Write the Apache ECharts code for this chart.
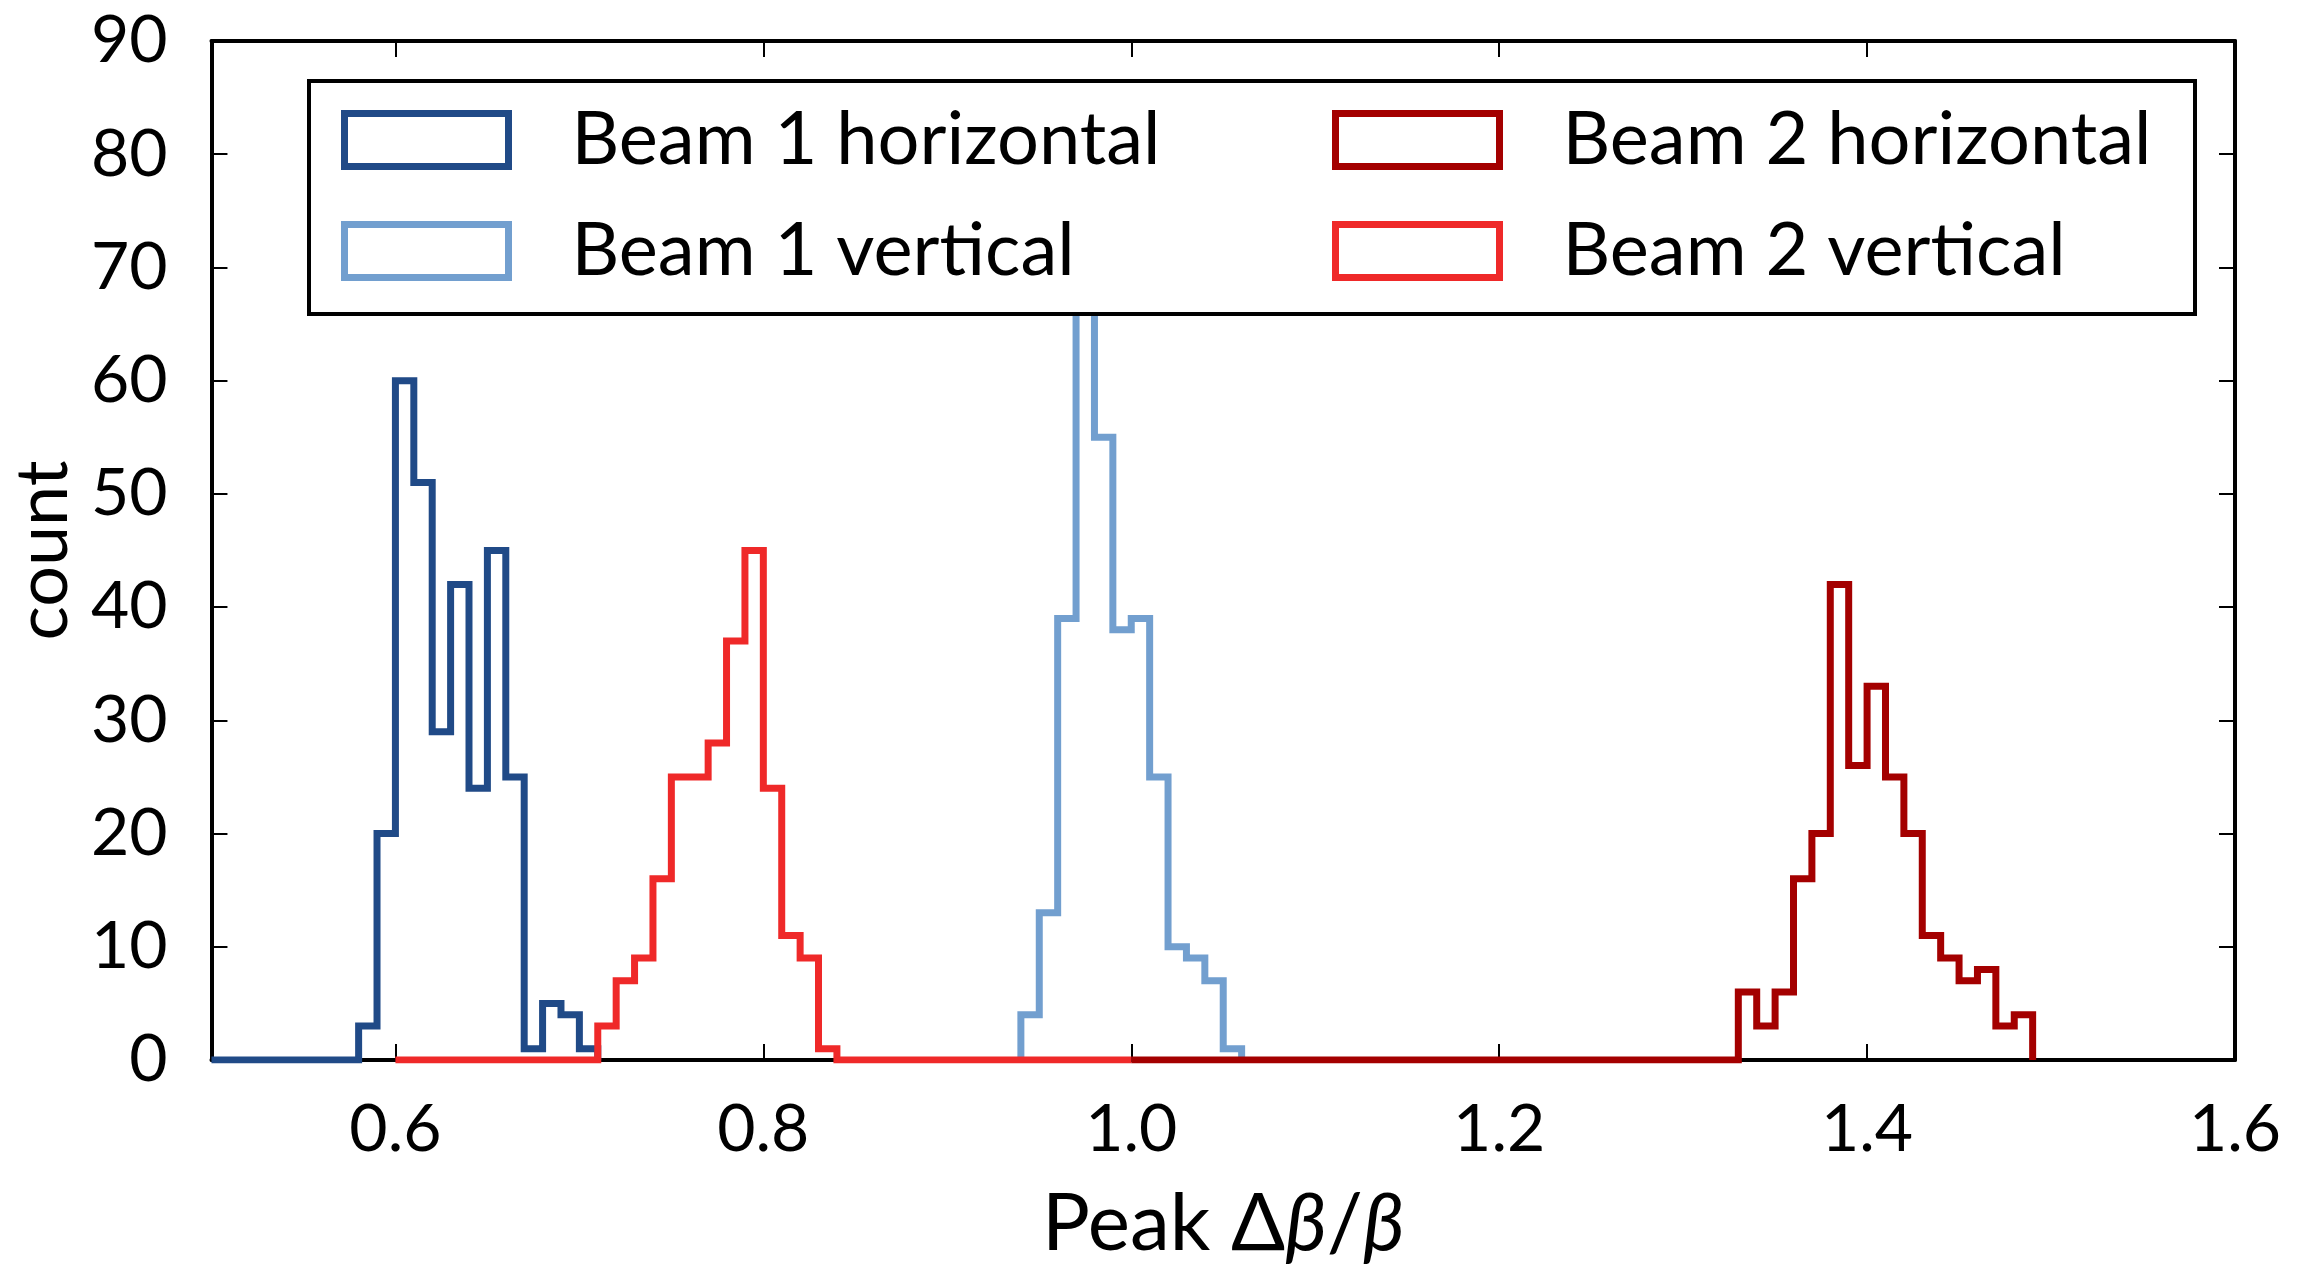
<!DOCTYPE html>
<html>
<head>
<meta charset="utf-8">
<script src="https://cdn.jsdelivr.net/npm/echarts@6/dist/echarts.min.js"></script>
<style>
html,body{margin:0;padding:0;background:#fff;}
#c{width:2319px;height:1272px;}
</style>
</head>
<body>
<div id="c"></div>
<script>
// ---- data ----
const binWidth = 0.01;
const seriesNames = ['Beam 1 horizontal', 'Beam 1 vertical', 'Beam 2 horizontal', 'Beam 2 vertical'];
const seriesColors = ['#204a87', '#729fcf', '#a40000', '#ef2929'];
// first bin edge of each histogram
const b1hStart = 0.58;
const b1vStart = 0.94;
const b2hStart = 1.33;
const b2vStart = 0.71;
// counts per bin (bin width 0.01)
const b1hCounts = [3, 20, 60, 51, 29, 42, 24, 45, 25, 1, 5, 4, 1];
const b1vCounts = [4, 13, 39, 70, 55, 38, 39, 25, 10, 9, 7, 1];
const b2hCounts = [6, 3, 6, 16, 20, 42, 26, 33, 25, 20, 11, 9, 7, 8, 3, 4];
const b2vCounts = [3, 7, 9, 16, 25, 25, 28, 37, 45, 24, 11, 9, 1];
// zero-count range of each histogram (where its outline runs along 0)
const b1hRange = [0.50, 0.71];
const b1vRange = [0.94, 1.06];
const b2hRange = [1.00, 1.49];
const b2vRange = [0.60, 1.00];
// axis ticks
const xTicks = [0.6, 0.8, 1.0, 1.2, 1.4, 1.6];
const xMin = 0.5, xMax = 1.6;
const yMin = 0, yMax = 90, yStep = 10;

function r2(v){ return Math.round(v * 1000) / 1000; }
function stepData(range, start, counts){
  const pts = [[range[0], 0]];
  counts.forEach((c, i) => pts.push([r2(start + i * binWidth), c]));
  const end = r2(start + counts.length * binWidth);
  pts.push([end, 0]);
  if (range[1] > end) pts.push([range[1], 0]);
  return pts;
}
const allData = [
  stepData(b1hRange, b1hStart, b1hCounts),
  stepData(b1vRange, b1vStart, b1vCounts),
  stepData(b2hRange, b2hStart, b2hCounts),
  stepData(b2vRange, b2vStart, b2vCounts)
];

const FONT = 'Lato';
const chart = echarts.init(document.getElementById('c'), null, {renderer: 'canvas'});

const axisLine = {show: true, onZero: false, lineStyle: {color: '#000', width: 4}};
const tick = {show: true, inside: true, length: 16, lineStyle: {color: '#000', width: 2}};

function legendItem(i){
  return {name: seriesNames[i], icon: 'rect',
    itemStyle: {color: '#fff', borderColor: seriesColors[i], borderWidth: 7}};
}
const legendCommon = {
  orient: 'vertical', selectedMode: false, itemWidth: 164, itemHeight: 53, itemGap: 37,
  textStyle: {fontFamily: FONT, fontSize: 74, color: '#000', lineHeight: 53, padding: [0, 0, 0, 58]},
  z: 20
};

chart.setOption({
  animation: false,
  backgroundColor: '#fff',
  grid: {left: 211, right: 84, top: 41, bottom: 212, containLabel: false},
  xAxis: [
    {type: 'value', min: xMin, max: xMax, position: 'bottom',
     axisLine: axisLine, splitLine: {show: false},
     axisTick: Object.assign({customValues: xTicks}, tick),
     axisLabel: {customValues: xTicks, margin: 37, fontFamily: FONT, fontSize: 66, color: '#000',
       formatter: v => v.toFixed(1)},
     name: 'Peak Δ{i|β}/{i|β}', nameLocation: 'middle', nameGap: 124,
     nameTextStyle: {fontFamily: FONT, fontSize: 80, color: '#000',
       rich: {i: {fontFamily: FONT, fontSize: 80, fontStyle: 'italic', color: '#000'}}}},
    {type: 'value', min: xMin, max: xMax, position: 'top',
     axisLine: axisLine, splitLine: {show: false},
     axisTick: Object.assign({customValues: xTicks}, tick),
     axisLabel: {show: false}}
  ],
  yAxis: [
    {type: 'value', min: yMin, max: yMax, interval: yStep, position: 'left',
     axisLine: axisLine, splitLine: {show: false}, axisTick: tick,
     axisLabel: {margin: 44, fontFamily: FONT, fontSize: 66, color: '#000'},
     name: 'count', nameLocation: 'middle', nameGap: 130, nameRotate: 90,
     nameTextStyle: {fontFamily: FONT, fontSize: 72, color: '#000'}},
    {type: 'value', min: yMin, max: yMax, interval: yStep, position: 'right',
     axisLine: axisLine, splitLine: {show: false}, axisTick: tick,
     axisLabel: {show: false}}
  ],
  legend: [
    Object.assign({left: 336, top: 98, data: [legendItem(0), legendItem(1)]}, legendCommon),
    Object.assign({left: 1327, top: 98, data: [legendItem(2), legendItem(3)]}, legendCommon)
  ],
  graphic: [{
    type: 'rect', z: 15, silent: true,
    shape: {x: 309, y: 81, width: 1886, height: 233},
    style: {fill: '#fff', stroke: '#000', lineWidth: 4}
  }],
  series: allData.map((d, i) => ({
    name: seriesNames[i], type: 'line', step: 'end', data: d,
    xAxisIndex: 0, yAxisIndex: 0,
    symbol: 'none', showSymbol: false, z: 2 + i,
    color: seriesColors[i],
    lineStyle: {color: seriesColors[i], width: 7, join: 'miter', cap: 'butt'}
  }))
});
</script>
</body>
</html>
